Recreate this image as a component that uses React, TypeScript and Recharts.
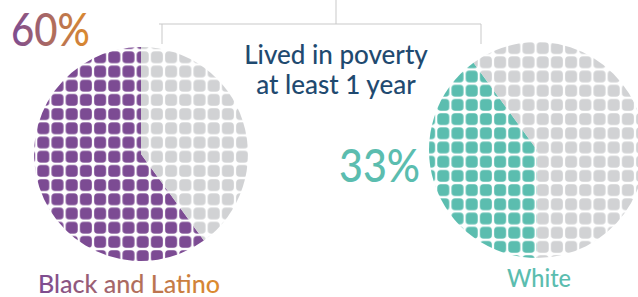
import { PieChart, Pie, Cell } from "recharts";

const sliceNames = ["Lived in poverty", "Did not"];
const blackLatinoShares = [60, 40];
const whiteShares = [40, 60]; // wedge is drawn at ~144deg although the label reads 33%
const shareLabels = ["60%", "33%"];
const groupLabels = ["Black and Latino", "White"];
const titleLines = ["Lived in poverty", "at least 1 year"];

const PURPLE = "#7c4b93";
const ORANGE = "#de8b2c";
const TEAL = "#5bbdaf";
const GRAY = "#d1d2d4";
const NAVY = "#1f4a70";
const FONT = "Lato, 'Open Sans', sans-serif";

const leftData = sliceNames.map((name, i) => ({ name, value: blackLatinoShares[i] }));
const rightData = sliceNames.map((name, i) => ({ name, value: whiteShares[i] }));

// dot grid fill, one per colour per circle so the grid lines up
function DotPattern({ id, color, x, y }: { id: string; color: string; x: number; y: number }) {
  return (
    <pattern id={id} x={x} y={y} width={14.2} height={14.2} patternUnits="userSpaceOnUse">
      <rect x={1.1} y={1.1} width={12} height={12} rx={3.6} fill={color} />
    </pattern>
  );
}

export default function App() {
  return (
    <div style={{ position: "absolute", left: 0, top: 0, width: 638, height: 297, background: "#fff" }}>
      <PieChart width={638} height={297} margin={{ top: 0, right: 0, bottom: 0, left: 0 }}>
        <defs>
          <DotPattern id="dotPurple" color={PURPLE} x={36.2} y={149.6} />
          <DotPattern id="dotGrayL" color={GRAY} x={36.2} y={149.6} />
          <DotPattern id="dotTeal" color={TEAL} x={436.2} y={154.6} />
          <DotPattern id="dotGrayR" color={GRAY} x={436.2} y={154.6} />
          <linearGradient id="purpleOrange" x1="0" y1="0" x2="1" y2="0">
            <stop offset="0%" stopColor={PURPLE} />
            <stop offset="100%" stopColor={ORANGE} />
          </linearGradient>
        </defs>

        {/* bracket */}
        <g stroke="#c9c9c9" strokeWidth={1} fill="none">
          <line x1={336} y1={0} x2={336} y2={24} />
          <line x1={159} y1={24} x2={481} y2={24} />
          <line x1={162} y1={24} x2={162} y2={44} />
          <line x1={481} y1={24} x2={481} y2={44} />
        </g>

        <Pie
          data={leftData}
          dataKey="value"
          cx={141}
          cy={154}
          outerRadius={107}
          startAngle={90}
          endAngle={450}
          stroke="none"
          isAnimationActive={false}
        >
          <Cell fill="url(#dotPurple)" />
          <Cell fill="url(#dotGrayL)" />
        </Pie>
        <Pie
          data={rightData}
          dataKey="value"
          cx={537}
          cy={150}
          outerRadius={108}
          startAngle={270}
          endAngle={-90}
          stroke="none"
          isAnimationActive={false}
        >
          <Cell fill="url(#dotTeal)" />
          <Cell fill="url(#dotGrayR)" />
        </Pie>

        <text x={11} y={46} fontFamily={FONT} fontSize={46} fontWeight={500} fill="url(#purpleOrange)" textLength={79} lengthAdjust="spacingAndGlyphs">
          {shareLabels[0]}
        </text>
        <text x={339} y={182} fontFamily={FONT} fontSize={47} fontWeight={500} fill={TEAL} textLength={81} lengthAdjust="spacingAndGlyphs">
          {shareLabels[1]}
        </text>

        {titleLines.map((line, i) => (
          <text key={line} x={336} y={64 + i * 30} textAnchor="middle" fontFamily={FONT} fontSize={26} fontWeight={500} fill={NAVY}>
            {line}
          </text>
        ))}

        <text x={38} y={293} fontFamily={FONT} fontSize={24} fontWeight={500} fill="url(#purpleOrange)" textLength={182} lengthAdjust="spacingAndGlyphs">
          {groupLabels[0]}
        </text>
        <text x={539} y={287} textAnchor="middle" fontFamily={FONT} fontSize={24} fontWeight={500} fill={TEAL} textLength={64} lengthAdjust="spacingAndGlyphs">
          {groupLabels[1]}
        </text>
      </PieChart>
    </div>
  );
}
